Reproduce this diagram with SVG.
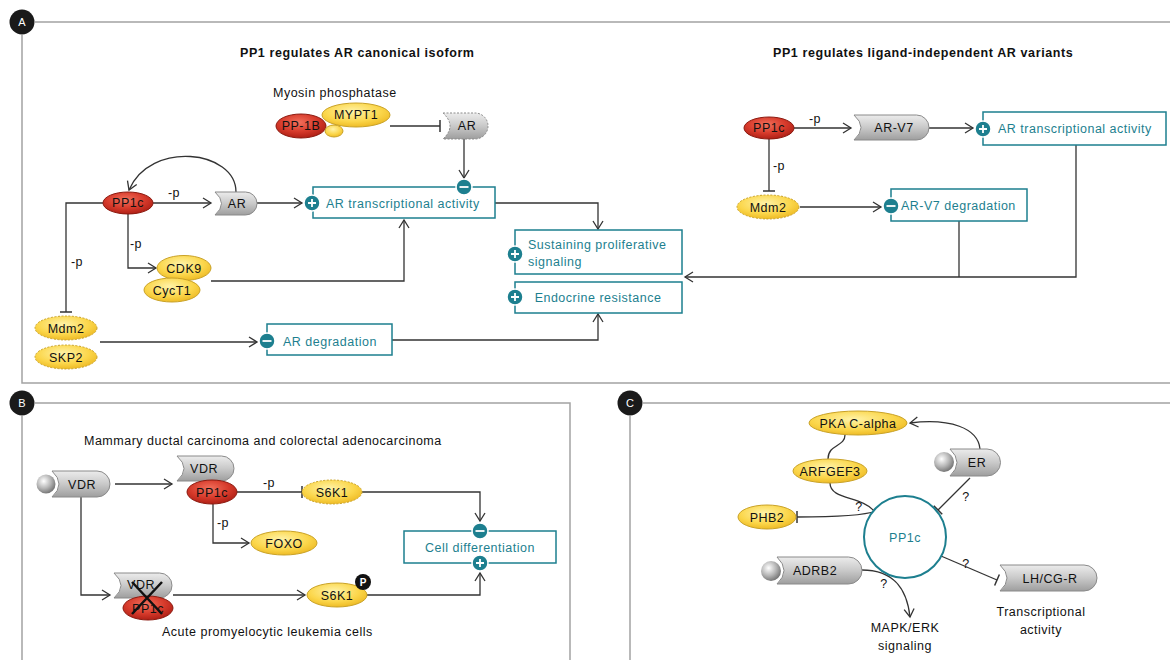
<svg xmlns="http://www.w3.org/2000/svg" width="1170" height="660" viewBox="0 0 1170 660">
<defs>
<style>
.frame{fill:none;stroke:#a3a3a3;stroke-width:1.5}
.ln{fill:none;stroke:#333;stroke-width:1.3}
.arr{marker-end:url(#arrow)}
.inh{marker-end:url(#tbar)}
.t{font-family:"Liberation Sans",Arial,sans-serif;font-size:12.5px;letter-spacing:0.5px;fill:#111}
.c{text-anchor:middle}
.title{font-family:"Liberation Sans",Arial,sans-serif;font-size:12.5px;font-weight:bold;letter-spacing:0.6px;fill:#111}
.tl{fill:#1d7f8f}
.box{fill:#fff;stroke:#1d7f8f;stroke-width:1.5}
.sg{fill:#1d7f8f;stroke:#fff;stroke-width:1.5}
.sgl{stroke:#fff;stroke-width:1.8}
.red{fill:url(#gRed);stroke:#8c1a10;stroke-width:1}
.yel{fill:url(#gYel);stroke:#c9a227;stroke-width:1}
.dash{stroke-dasharray:2 1.5}
.rec{fill:url(#gGray);stroke:#8a8a8a;stroke-width:1}
.ball{fill:url(#gBall)}
.lab{fill:#1a1a1a}
.labt{font-family:"Liberation Sans",Arial,sans-serif;font-size:11px;fill:#fff;text-anchor:middle}
</style>
<linearGradient id="gGray" x1="0" y1="0" x2="0" y2="1">
<stop offset="0" stop-color="#ececec"/><stop offset="0.5" stop-color="#c9c9c9"/><stop offset="1" stop-color="#9e9e9e"/>
</linearGradient>
<radialGradient id="gRed" cx="0.45" cy="0.35" r="0.7">
<stop offset="0" stop-color="#f2705c"/><stop offset="0.55" stop-color="#d63a2b"/><stop offset="1" stop-color="#a81b12"/>
</radialGradient>
<radialGradient id="gYel" cx="0.45" cy="0.35" r="0.7">
<stop offset="0" stop-color="#fff3a8"/><stop offset="0.6" stop-color="#fbd64a"/><stop offset="1" stop-color="#ebb51e"/>
</radialGradient>
<radialGradient id="gBall" cx="0.38" cy="0.35" r="0.7">
<stop offset="0" stop-color="#ffffff"/><stop offset="0.55" stop-color="#b5b5b5"/><stop offset="1" stop-color="#6e6e6e"/>
</radialGradient>
<marker id="arrow" markerUnits="userSpaceOnUse" markerWidth="12" markerHeight="12" viewBox="0 0 12 12" refX="10" refY="6" orient="auto">
<path d="M2,1 L10,6 L2,11" fill="none" stroke="#333" stroke-width="1.3"/>
</marker>
<marker id="tbar" markerUnits="userSpaceOnUse" markerWidth="4" markerHeight="14" viewBox="0 0 4 14" refX="2" refY="7" orient="auto">
<path d="M2,1 V13" stroke="#333" stroke-width="1.5"/>
</marker>
</defs>
<rect width="1170" height="660" fill="#fff"/>

<!-- panel frames -->
<g id="frames">
<path class="frame" d="M35,22 H1170 M22,35 V383 H1170"/>
<circle class="lab" cx="22" cy="22" r="12.5"/><text class="labt" x="22" y="26">A</text>
<path class="frame" d="M35,403 H570 V660 M22,416 V660"/>
<circle class="lab" cx="22" cy="403" r="12.5"/><text class="labt" x="22" y="407">B</text>
<path class="frame" d="M643,403 H1170 M630,416 V660"/>
<circle class="lab" cx="630" cy="403" r="12.5"/><text class="labt" x="630" y="407">C</text>
</g>

<!-- titles -->
<g id="titles">
<text class="title" x="240" y="57">PP1 regulates AR canonical isoform</text>
<text class="title" x="773" y="57">PP1 regulates ligand-independent AR variants</text>
<text class="t" x="273" y="97">Myosin phosphatase</text>
<text class="t" x="84" y="445">Mammary ductal carcinoma and colorectal adenocarcinoma</text>
<text class="t" x="162" y="636">Acute promyelocytic leukemia cells</text>
</g>

<!-- connectors -->
<g id="connectors">
<path class="ln arr" d="M153,203 H211"/>
<path class="ln arr" d="M257,203 H302"/>
<path class="ln arr" d="M236,192 C236,150 150,140 129,190"/>
<path class="ln inh" d="M103,203 H66 V312"/>
<path class="ln arr" d="M128,214 V268 H156"/>
<path class="ln arr" d="M211,281 H404 V220"/>
<path class="ln arr" d="M100,342 H257"/>
<path class="ln inh" d="M390,126 H440"/>
<path class="ln arr" d="M464,139 V178"/>
<path class="ln arr" d="M495,203 H598 V229"/>
<path class="ln arr" d="M392,340 H598 V314"/>
<path class="ln arr" d="M1076,145 V277 H685"/>
<path class="ln" d="M959,221 V277"/>
<path class="ln arr" d="M794,128 H851"/>
<path class="ln arr" d="M929,128 H973"/>
<path class="ln inh" d="M769,139 V191"/>
<path class="ln arr" d="M800,207 H881"/>
<text class="t c" x="174" y="197">-p</text>
<text class="t c" x="77" y="266">-p</text>
<text class="t c" x="136" y="248">-p</text>
<text class="t c" x="815" y="123">-p</text>
<text class="t c" x="779" y="170">-p</text>
<!-- B -->
<path class="ln arr" d="M115,484 H172"/>
<path class="ln arr" d="M81,497 V595 H110"/>
<path class="ln inh" d="M237,492 H302"/>
<path class="ln arr" d="M362,492 H480 V521"/>
<path class="ln arr" d="M213,504 V543 H249"/>
<path class="ln arr" d="M173,595 H305"/>
<path class="ln arr" d="M367,595 H480 V573"/>
<text class="t c" x="269" y="487">-p</text>
<text class="t c" x="223" y="527">-p</text>
<!-- C -->
<path class="ln" d="M845,435 C845,447 828,444 828,459"/>
<path class="ln" d="M830,483 C830,500 862,496 874,511"/>
<path class="ln arr" d="M980,449 C978,428 950,418 910,423"/>
<path class="ln inh" d="M970,478 L938,510"/>
<path class="ln inh" d="M876,511 Q860,517 797,517"/>
<path class="ln arr" d="M862,570 C895,570 907,590 910,617"/>
<path class="ln inh" d="M941,556 L997,580"/>
<text class="t c" x="859" y="511">?</text>
<text class="t c" x="966" y="501">?</text>
<text class="t c" x="884" y="588">?</text>
<text class="t c" x="966" y="568">?</text>
</g>

<!-- Panel A left nodes -->
<g id="myosin_phosphatase">
<ellipse class="red" cx="301" cy="126" rx="25" ry="12"/>
<text class="t c" x="301" y="130">PP-1B</text>
<ellipse class="yel" cx="356" cy="115" rx="34" ry="12"/>
<text class="t c" x="356" y="119">MYPT1</text>
<ellipse class="yel" cx="334" cy="131" rx="9" ry="6"/>
</g>
<g id="AR_inhibited">
<path class="rec dash" d="M443,113 H475 A13,13 0 0 1 475,139 H443 Q457,126 443,113 Z"/>
<text class="t c" x="467" y="130">AR</text>
</g>
<g id="PP1c_A">
<ellipse class="red" cx="128" cy="203" rx="25" ry="11"/>
<text class="t c" x="128" y="207">PP1c</text>
</g>
<g id="AR_A">
<path class="rec" d="M215,192 H245.5 A11.5,11.5 0 0 1 245.5,215 H215 Q228,203.5 215,192 Z"/>
<text class="t c" x="237" y="207.5">AR</text>
</g>
<g id="CDK9_CycT1">
<ellipse class="yel" cx="184" cy="268" rx="27" ry="12.5"/>
<text class="t c" x="184" y="272.5">CDK9</text>
<ellipse class="yel" cx="172" cy="290" rx="28" ry="12"/>
<text class="t c" x="172" y="294.5">CycT1</text>
</g>
<g id="Mdm2_SKP2">
<ellipse class="yel dash" cx="66" cy="328" rx="31" ry="12"/>
<text class="t c" x="66" y="332.5">Mdm2</text>
<ellipse class="yel dash" cx="66" cy="357" rx="31" ry="12"/>
<text class="t c" x="66" y="361.5">SKP2</text>
</g>
<g id="AR_transcriptional_A">
<rect class="box" x="313" y="187" width="182" height="31"/>
<text class="t tl" x="326" y="208">AR transcriptional activity</text>
<circle class="sg" cx="312" cy="203" r="8"/><path class="sgl" d="M308,203 H316 M312,199 V207"/>
<circle class="sg" cx="464" cy="187" r="8"/><path class="sgl" d="M459.5,187 H468.5"/>
</g>
<g id="AR_degradation">
<rect class="box" x="267" y="324" width="125" height="31"/>
<text class="t tl" x="283" y="346">AR degradation</text>
<circle class="sg" cx="267" cy="341" r="8"/><path class="sgl" d="M262.5,341 H271.5"/>
</g>
<g id="sustaining">
<rect class="box" x="515" y="230" width="167" height="44"/>
<text class="t tl" x="528" y="249">Sustaining proliferative</text>
<text class="t tl" x="528" y="266">signaling</text>
<circle class="sg" cx="515" cy="254" r="8"/><path class="sgl" d="M511,254 H519 M515,250 V258"/>
</g>
<g id="endocrine">
<rect class="box" x="515" y="282" width="167" height="31"/>
<text class="t tl c" x="598" y="302">Endocrine resistance</text>
<circle class="sg" cx="515" cy="297" r="8"/><path class="sgl" d="M511,297 H519 M515,293 V301"/>
</g>

<!-- Panel A right nodes -->
<g id="PP1c_AR">
<ellipse class="red" cx="769" cy="128" rx="25" ry="11"/>
<text class="t c" x="769" y="132">PP1c</text>
</g>
<g id="AR_V7">
<path class="rec" d="M854,115 H916.5 A12.5,12.5 0 0 1 916.5,140 H854 Q868,127.5 854,115 Z"/>
<text class="t c" x="894" y="132">AR-V7</text>
</g>
<g id="Mdm2_right">
<ellipse class="yel dash" cx="768" cy="207" rx="31" ry="12"/>
<text class="t c" x="768" y="211.5">Mdm2</text>
</g>
<g id="AR_transcriptional_R">
<rect class="box" x="983" y="112" width="183" height="33"/>
<text class="t tl" x="998" y="133">AR transcriptional activity</text>
<circle class="sg" cx="983" cy="129" r="8"/><path class="sgl" d="M979,129 H987 M983,125 V133"/>
</g>
<g id="ARV7_degradation">
<rect class="box" x="891" y="189" width="136" height="32"/>
<text class="t tl" x="901" y="210">AR-V7 degradation</text>
<circle class="sg" cx="891" cy="206" r="8"/><path class="sgl" d="M886.5,206 H895.5"/>
</g>

<!-- Panel B nodes -->
<g id="VDR_ligand">
<path class="rec" d="M52,471 H97 A13,13 0 0 1 97,497 H52 Q66,484 52,471 Z"/>
<circle class="ball" cx="46" cy="484" r="9.5"/>
<text class="t c" x="82" y="488.5">VDR</text>
</g>
<g id="VDR_PP1c">
<path class="rec" d="M177,456 H221.5 A12.5,12.5 0 0 1 221.5,481 H177 Q191,468.5 177,456 Z"/>
<text class="t c" x="204" y="473">VDR</text>
<ellipse class="red" cx="212" cy="492" rx="25" ry="12"/>
<text class="t c" x="212" y="496.5">PP1c</text>
</g>
<g id="S6K1_upper">
<ellipse class="yel dash" cx="332" cy="492" rx="30" ry="12"/>
<text class="t c" x="332" y="496.5">S6K1</text>
</g>
<g id="FOXO">
<ellipse class="yel" cx="284" cy="543" rx="33" ry="12"/>
<text class="t c" x="284" y="547.5">FOXO</text>
</g>
<g id="VDR_PP1c_blocked">
<path class="rec" d="M114,573 H159.5 A12.5,12.5 0 0 1 159.5,598 H114 Q128,585.5 114,573 Z"/>
<text class="t c" x="141" y="589">VDR</text>
<ellipse class="red" cx="148" cy="608" rx="25" ry="12"/>
<text class="t c" x="148" y="612.5">PP1c</text>
<path d="M132,582 L162,614 M162,582 L132,614" stroke="#111" stroke-width="2.5"/>
</g>
<g id="S6K1_lower">
<ellipse class="yel" cx="337" cy="595" rx="30" ry="12"/>
<text class="t c" x="337" y="599.5">S6K1</text>
<circle cx="363" cy="582" r="8" fill="#111"/>
<text class="labt" x="363" y="586" style="font-size:10px;font-weight:bold">P</text>
</g>
<g id="cell_differentiation">
<rect class="box" x="404" y="531" width="152" height="32"/>
<text class="t tl c" x="480" y="552">Cell differentiation</text>
<circle class="sg" cx="480" cy="531" r="8"/><path class="sgl" d="M475.5,531 H484.5"/>
<circle class="sg" cx="480" cy="563" r="8"/><path class="sgl" d="M476,563 H484 M480,559 V567"/>
</g>

<!-- Panel C nodes -->
<g id="PKA">
<ellipse class="yel" cx="858" cy="423" rx="49" ry="12"/>
<text class="t c" x="858" y="427.5">PKA C-alpha</text>
</g>
<g id="ARFGEF3">
<ellipse class="yel" cx="830" cy="471" rx="37" ry="12"/>
<text class="t c" x="830" y="475.5">ARFGEF3</text>
</g>
<g id="ER">
<path class="rec" d="M950,449 H987 A13.5,13.5 0 0 1 987,476 H950 Q964,462.5 950,449 Z"/>
<circle class="ball" cx="944" cy="462" r="10"/>
<text class="t c" x="977" y="466.5">ER</text>
</g>
<g id="PHB2">
<ellipse class="yel" cx="767" cy="517" rx="29" ry="12"/>
<text class="t c" x="767" y="521.5">PHB2</text>
</g>
<g id="PP1c_C">
<circle cx="905" cy="537" r="41" fill="#fff" stroke="#1d7f8f" stroke-width="2"/>
<text class="t tl c" x="905" y="541.5">PP1c</text>
</g>
<g id="ADRB2">
<path class="rec" d="M777,557 H848.5 A13.5,13.5 0 0 1 848.5,584 H777 Q791,570.5 777,557 Z"/>
<circle class="ball" cx="771" cy="571" r="10"/>
<text class="t c" x="815" y="575">ADRB2</text>
</g>
<g id="MAPK_ERK">
<text class="t c" x="905" y="632">MAPK/ERK</text>
<text class="t c" x="905" y="650">signaling</text>
</g>
<g id="LHCGR">
<path class="rec" d="M1000,565 H1084 A13,13 0 0 1 1084,591 H1000 Q1014,578 1000,565 Z"/>
<text class="t c" x="1050" y="582.5">LH/CG-R</text>
<text class="t c" x="1041" y="616">Transcriptional</text>
<text class="t c" x="1041" y="634">activity</text>
</g>
</svg>
